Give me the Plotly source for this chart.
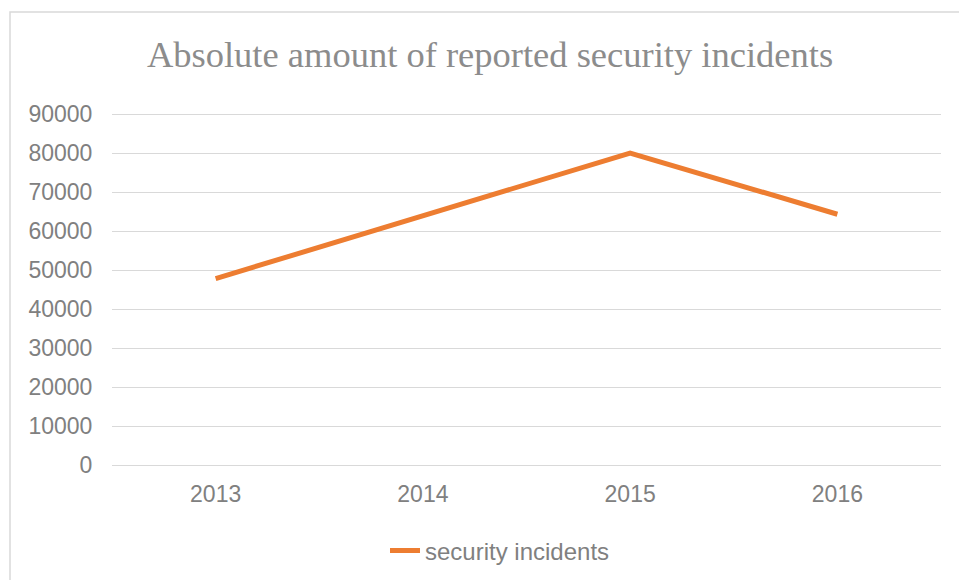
import plotly.graph_objects as go

years = ["2013", "2014", "2015", "2016"]
incidents = [47800, 64000, 80000, 64300]
y_ticks = [0, 10000, 20000, 30000, 40000, 50000, 60000, 70000, 80000, 90000]

W, H = 959, 580
L, R, T, B = 112, 18, 114, 115

fig = go.Figure()
fig.add_trace(go.Scatter(
    x=years, y=incidents, mode="lines", name="security incidents",
    line=dict(color="#ED7D31", width=5),
))

PAD = 4
pw = W - L - R
ph = H - T - B
ph_real = ph + 2 * PAD
def px_x(p):
    return (p - L) / pw
def px_y(p):
    return (H - B + PAD - p) / ph_real

fig.add_shape(type="rect", xref="paper", yref="paper",
              x0=px_x(10), x1=px_x(1000), y0=px_y(620), y1=px_y(12),
              line=dict(color="#D9D9D9", width=1.5), fillcolor="rgba(0,0,0,0)", layer="below")

eps = 90000 / ph * PAD

fig.update_layout(
    width=W, height=H,
    margin=dict(l=L, r=R, t=T - PAD, b=B - PAD),
    paper_bgcolor="white", plot_bgcolor="white",
    title=dict(text="Absolute amount of reported security incidents",
               font=dict(family="Liberation Serif", size=36.5, color="#8C8C8C"),
               xref="container", x=490 / W, xanchor="center",
               yref="container", y=1 - 54 / H, yanchor="middle"),
    font=dict(family="Liberation Sans", size=23, color="#808080"),
    xaxis=dict(type="category", range=[-0.5, 3.5], showgrid=False, showline=False,
               zeroline=False, ticks="outside", ticklen=8 - PAD, tickcolor="rgba(0,0,0,0)",
               tickfont=dict(size=23, color="#808080")),
    yaxis=dict(range=[-eps, 90000 + eps], tickvals=y_ticks, ticktext=[str(v) for v in y_ticks],
               showgrid=True, gridcolor="#D9D9D9", gridwidth=1.3, zeroline=False,
               showline=False, ticks="outside", ticklen=14, tickcolor="rgba(0,0,0,0)",
               tickfont=dict(size=23, color="#808080")),
    showlegend=True,
    legend=dict(orientation="h", xref="container", yref="container",
                x=500 / W, xanchor="center", y=1 - 551 / H, yanchor="middle",
                font=dict(size=24, color="#808080"), bgcolor="rgba(0,0,0,0)"),
)

fig.write_html("out.html")
